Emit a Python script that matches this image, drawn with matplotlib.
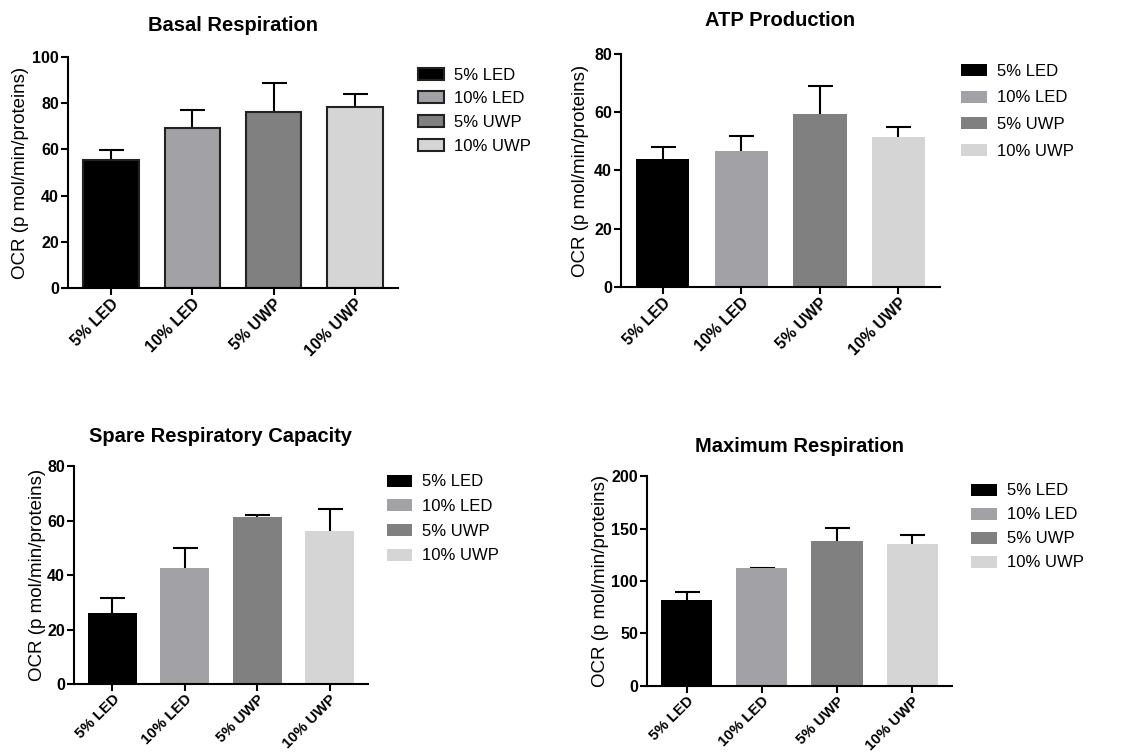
import matplotlib
matplotlib.use("Agg")
import matplotlib.pyplot as plt

plt.rcParams['font.family'] = ['Liberation Sans', 'DejaVu Sans']

groups = ["5% LED", "10% LED", "5% UWP", "10% UWP"]
colors = ["#000000", "#a2a2a6", "#808080", "#d5d5d5"]

basal_mean = [55.4, 69.1, 76.0, 78.5]
basal_err = [4.3, 7.9, 12.6, 5.5]

atp_mean = [43.8, 46.8, 59.4, 51.4]
atp_err = [4.2, 5.0, 9.6, 3.4]

spare_mean = [25.9, 42.7, 61.2, 56.3]
spare_err = [5.5, 7.1, 0.8, 7.8]

max_mean = [81.6, 112.4, 137.8, 135.6]
max_err = [7.6, 0.4, 13.0, 8.5]

panels = [
    dict(title="Basal Respiration", mean=basal_mean, err=basal_err, ylim=100, step=20,
         pos=[0.0599, 0.617, 0.2905, 0.3072], edge=True, legend=(0.362, 0.919), ls=0.52,
         labx=-0.118, pad=19, xfs=11.5),
    dict(title="ATP Production", mean=atp_mean, err=atp_err, ylim=80, step=20,
         pos=[0.5467, 0.6184, 0.2808, 0.3098], edge=False, legend=(0.840, 0.924), ls=0.70,
         labx=-0.100, pad=20, xfs=11.5),
    dict(title="Spare Respiratory Capacity", mean=spare_mean, err=spare_err, ylim=80, step=20,
         pos=[0.0651, 0.0904, 0.2588, 0.2899], edge=False, legend=(0.3345, 0.378), ls=0.58,
         labx=-0.095, pad=17, xfs=10.8),
    dict(title="Maximum Respiration", mean=max_mean, err=max_err, ylim=200, step=50,
         pos=[0.5695, 0.0878, 0.2685, 0.2792], edge=False, legend=(0.849, 0.366), ls=0.54,
         labx=-0.125, pad=17, xfs=10.8),
]

fig = plt.figure(figsize=(11.36, 7.52), dpi=100)

for p in panels:
    ax = fig.add_axes(p["pos"])
    x = list(range(len(groups)))
    bars = ax.bar(x, p["mean"], width=0.68, color=colors,
                  edgecolor="#222222" if p["edge"] else colors,
                  linewidth=1.5 if p["edge"] else 0, zorder=2)
    eb = ax.errorbar(x, p["mean"], yerr=[[0] * 4, p["err"]], fmt="none",
                     ecolor="black", elinewidth=1.5, capsize=9, capthick=1.5, zorder=1)
    eb[1][0].remove()
    ax.set_xlim(-0.53, 3.53)
    ax.set_ylim(0, p["ylim"])
    ax.set_yticks(range(0, p["ylim"] + 1, p["step"]))
    ax.set_xticks(x)
    ax.set_xticklabels(groups, rotation=45, ha="right", rotation_mode="anchor",
                       fontsize=p["xfs"], fontweight="bold")
    for lab in ax.get_yticklabels():
        lab.set_fontsize(11.5)
        lab.set_fontweight("bold")
    for s in ["top", "right"]:
        ax.spines[s].set_visible(False)
    for s in ["left", "bottom"]:
        ax.spines[s].set_linewidth(1.5)
    ax.tick_params(axis="both", width=1.5, length=5, direction="out", pad=1.5)
    ax.tick_params(axis="x", pad=1)
    ax.set_ylabel("OCR (p mol/min/proteins)", fontsize=13.5)
    ax.yaxis.set_label_coords(p["labx"], 0.5)
    ax.set_title(p["title"], fontsize=14.5, fontweight="bold", pad=p["pad"])
    fig.legend(bars, groups, loc="upper left", bbox_to_anchor=p["legend"],
               frameon=False, fontsize=12, handlelength=1.55, handleheight=0.72,
               labelspacing=p["ls"], handletextpad=0.6, borderaxespad=0)

fig.savefig("out.png", dpi=100, facecolor="white")
